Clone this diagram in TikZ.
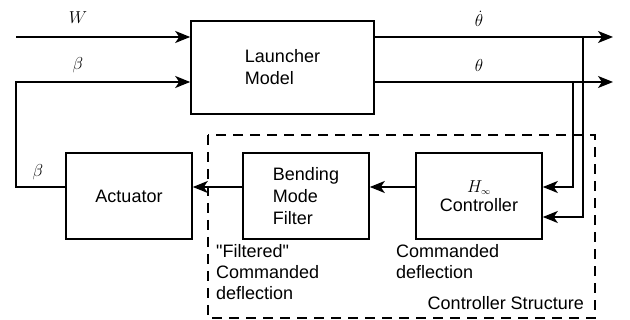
\documentclass[tikz,border=0pt]{standalone}
\usepackage{fontspec}
\setmainfont{Liberation Sans}[Ligatures=TeXOff]
\usetikzlibrary{arrows.meta,positioning}

\tikzstyle{block} = [rectangle, draw, line width=1.6pt, inner sep=0pt, minimum width=126pt, minimum height=86pt, font=\fontsize{18}{22}\selectfont]
\tikzstyle{sig}   = [line width=1.3pt]
\tikzstyle{tip}   = [-{Stealth[length=15pt,width=12pt,inset=4pt]}]
\tikzstyle{lbl}   = [inner sep=0pt, align=left, font=\fontsize{18}{21}\selectfont]
\tikzstyle{var}   = [inner sep=0pt, font=\fontsize{18}{22}\selectfont]

\begin{document}
\begin{tikzpicture}[x=1pt, y=-1pt]
    \useasboundingbox (0,0) rectangle (630,320);

      %Blocks
      \node[block, minimum width=183pt, minimum height=93pt, align=left] (launcher) at (282.5,67.5) {Launcher\\Model};
      \node[block] (actuator) at (129,196) {Actuator};
      \node[block, align=left] (filter) at (306,196) {Bending\\Mode\\Filter};
      \node[block, align=center] (ctrl) at (479,196) {$H_{\scriptscriptstyle\infty}$\\[-3pt]Controller};

      %Controller structure frame
      \draw[line width=1.4pt, dash pattern=on 10pt off 7pt] (208,135) rectangle (595,318);

      %Signal levels
      \coordinate (w)    at (16,37);
      \coordinate (bin)  at (16,82);
      \coordinate (bout) at (16,187);
      \coordinate (rate) at (613,37);
      \coordinate (att)  at (613,82);
      \coordinate (tapA) at (583,37);
      \coordinate (tapB) at (573,82);
      \coordinate (sig)  at (0,187);
      \coordinate (low)  at (0,217);

      %Inputs
      \draw[sig,tip] (w) -- (launcher.west |- w);
      \draw[sig,tip] (actuator.west |- bout) -- (bout) -- (bin) -- (launcher.west |- bin);

      %Outputs
      \draw[sig,tip] (launcher.east |- rate) -- (rate);
      \draw[sig,tip] (launcher.east |- att) -- (att);

      %Feedback to controller
      \draw[sig,tip] (tapA) -- (tapA |- low) -- (ctrl.east |- low);
      \draw[sig,tip] (tapB) -- (tapB |- sig) -- (ctrl.east |- sig);

      %Forward chain
      \draw[sig,tip] (ctrl.west |- sig) -- (filter.east |- sig);
      \draw[sig,tip] (filter.west |- sig) -- (actuator.east |- sig);

      %Signal names
      \node[var] (lW)    at (78,18)  {$W$};
      \node[var] (lbin)  at (78,65)  {$\beta$};
      \node[var] (lbout) at (38,172) {$\beta$};
      \node[var] (lrate) at (479,19) {$\dot{\theta}$};
      \node[var] (latt)  at (479,66) {$\theta$};

      %Notes
      \node[lbl, anchor=north west] (nfilt) at (216,244) {"Filtered"\\Commanded\\deflection};
      \node[lbl, anchor=north west] (ncmd)  at (396,244) {Commanded\\deflection};
      \node[lbl, anchor=east] (nstruct) at (584,303) {Controller Structure};
\end{tikzpicture}
\end{document}
